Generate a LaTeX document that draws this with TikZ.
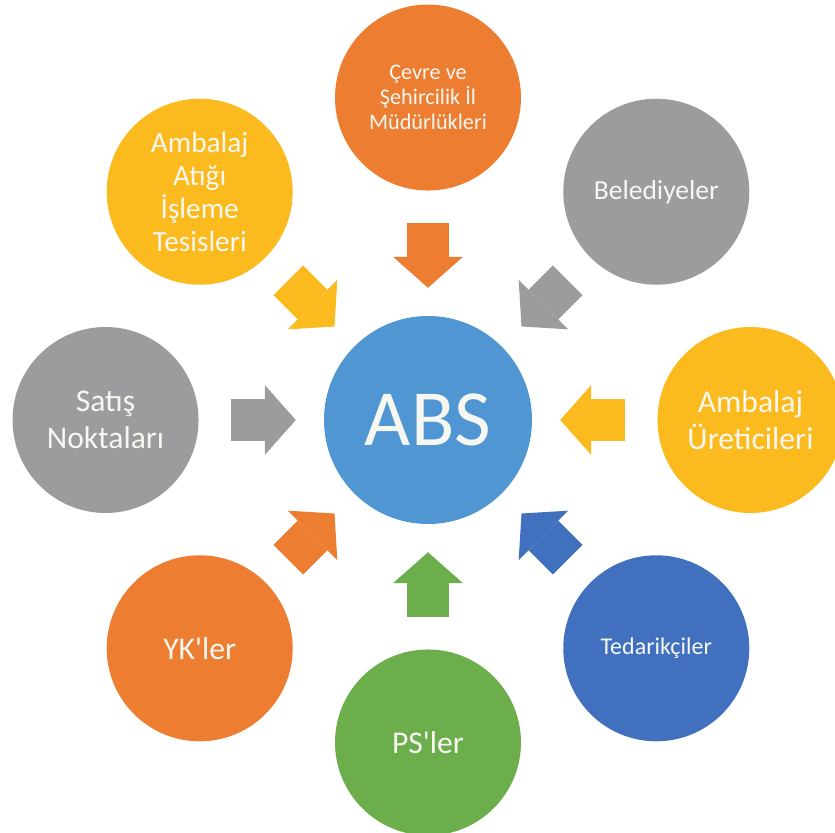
\documentclass[tikz,border=0pt]{standalone}
\usepackage{fontspec}
\setmainfont{Carlito}
\usepackage{xcolor}
\usetikzlibrary{positioning}
\usetikzlibrary{arrows.meta}
\definecolor{absblue}{HTML}{4F96D2}
\definecolor{orng}{HTML}{ED7D31}
\definecolor{gry}{HTML}{9B9C9E}
\definecolor{ylw}{HTML}{FBBA1E}
\definecolor{dblue}{HTML}{4170BE}
\definecolor{grn}{HTML}{6CAE4C}
\definecolor{txt}{HTML}{F7F7F2}

\begin{document}
\begin{tikzpicture}[
  node distance = 3.75cm,
  hub/.style = {circle,fill=absblue,minimum size=6.24cm,inner sep=0pt,text=txt,
        font=\fontsize{68}{80}\selectfont},
  actor/.style = {circle,minimum size=5.58cm,inner sep=0pt,text=txt,align=center,
        font=\fontsize{27}{31}\selectfont},
  blk/.style = {draw=#1,line width=1.26cm,shorten <=0.96cm,shorten >=0.84cm,
        -{Triangle[length=0.93cm,width=2.1cm,line width=0pt]}}
]
\useasboundingbox (-12.84,-12.36) rectangle (12.21,12.6);
 \node[hub] (abs) {ABS};
 \node[actor,fill=orng,above=of abs,font=\fontsize{19}{21.5}\selectfont] (cevre)
   {Çevre ve\\Şehircilik İl\\Müdürlükleri};
 \node[actor,fill=gry,above right=2.66cm and 2.66cm of abs,
   font=\fontsize{23.5}{28}\selectfont] (bel) {Belediyeler};
 \node[actor,fill=ylw,right=of abs] (ureti) {Ambalaj\\Üreticileri};
 \node[actor,fill=dblue,below right=2.66cm and 2.66cm of abs,
   font=\fontsize{20.5}{24}\selectfont] (tedar) {Tedarikçiler};
 \node[actor,fill=grn,below=of abs] (ps) {PS\textquotesingle ler};
 \node[actor,fill=orng,below left=2.66cm and 2.66cm of abs] (yk) {YK\textquotesingle ler};
 \node[actor,fill=gry,left=of abs] (satis) {Satış\\Noktaları};
 \node[actor,fill=ylw,above left=2.66cm and 2.66cm of abs,
   font=\fontsize{25}{28.2}\selectfont] (tesis) {Ambalaj\\Atığı\\İşleme\\Tesisleri};
 \begin{scope}
 \draw[blk=orng] (cevre) -- (abs);
 \draw[blk=gry] (bel) -- (abs);
 \draw[blk=ylw] (ureti) -- (abs);
 \draw[blk=dblue] (tedar) -- (abs);
 \draw[blk=grn] (ps) -- (abs);
 \draw[blk=orng] (yk) -- (abs);
 \draw[blk=gry] (satis) -- (abs);
 \draw[blk=ylw] (tesis) -- (abs);
 \end{scope}
\end{tikzpicture}
\end{document}
